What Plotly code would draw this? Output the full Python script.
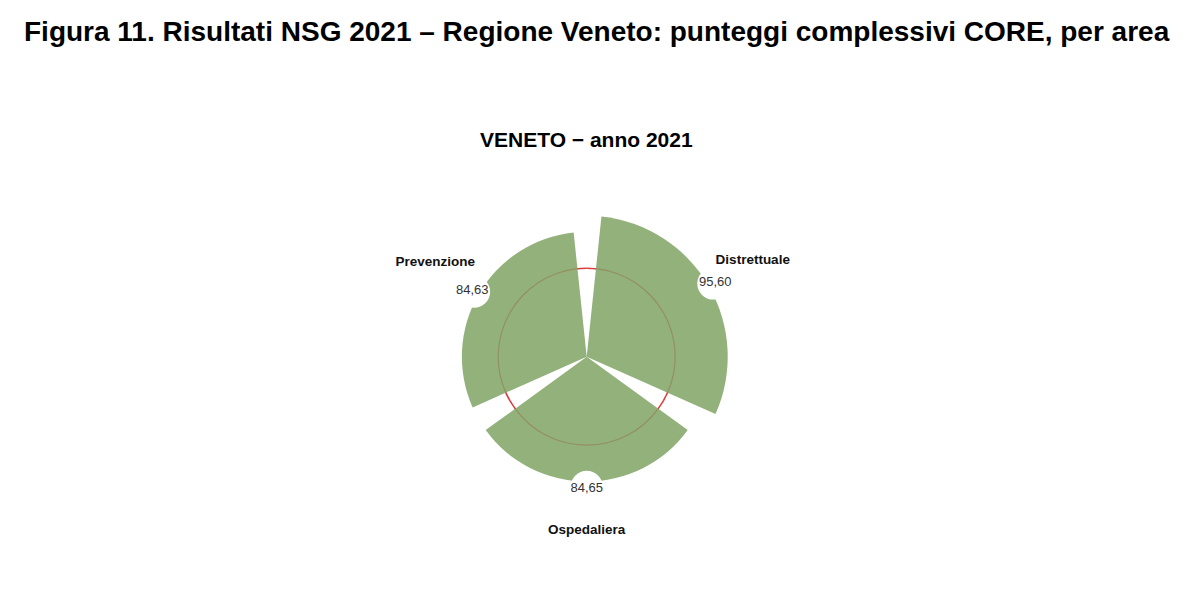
import plotly.graph_objects as go

# ---- data ----
categories = ["Prevenzione", "Distrettuale", "Ospedaliera"]
scores = [84.63, 95.60, 84.65]
score_labels = ["84,63", "95,60", "84,65"]
threshold = 60

main_title = "Figura 11. Risultati NSG 2021 – Regione Veneto: punteggi complessivi CORE, per area"
chart_title = "VENETO − anno 2021"

# ---- style ----
FONT = "Liberation Sans, Arial, sans-serif"
BAR_COLOR = "#93B17B"
R_MAX = 135
label_radius = [118.5, 130, 118]
label_textpos = ["top center", "middle center", "middle center"]

fig = go.Figure()

# threshold ring (visible red in gaps)
fig.add_trace(go.Barpolar(
    theta=categories, r=[1.1] * len(categories), base=[threshold - 0.55] * len(categories),
    width=1, marker=dict(color="#E0393A", line=dict(width=0)), hoverinfo="skip", showlegend=False))

# score bars
fig.add_trace(go.Barpolar(
    theta=categories, r=scores, width=0.9,
    marker=dict(color=BAR_COLOR, line=dict(width=0)), hoverinfo="skip", showlegend=False))

# threshold ring seen through bars
fig.add_trace(go.Barpolar(
    theta=categories, r=[0.8] * len(categories), base=[threshold - 0.4] * len(categories),
    width=0.9, marker=dict(color="rgba(150,80,50,0.35)", line=dict(width=0)),
    hoverinfo="skip", showlegend=False))

# white discs behind value labels
fig.add_trace(go.Scatterpolar(
    theta=categories, r=[v + 3.5 for v in scores], mode="markers",
    marker=dict(size=32, color="white", line=dict(width=0)),
    cliponaxis=False, hoverinfo="skip", showlegend=False))

# value labels
fig.add_trace(go.Scatterpolar(
    theta=categories, r=[v + 5 for v in scores], mode="text",
    text=score_labels, textposition="middle center",
    textfont=dict(family=FONT, size=13, color="#333333"),
    cliponaxis=False, hoverinfo="skip", showlegend=False))

# category labels
fig.add_trace(go.Scatterpolar(
    theta=categories, r=label_radius, mode="text",
    text=["<b>%s</b>" % c for c in categories], textposition=label_textpos,
    textfont=dict(family=FONT, size=13.5, color="#111111"),
    cliponaxis=False, hoverinfo="skip", showlegend=False))

W, H = 1204, 608
cx, cy = 586.7, 356.7
rad_px = R_MAX * 1.475
fig.update_layout(
    width=W, height=H,
    margin=dict(l=0, r=0, t=0, b=0),
    paper_bgcolor="white", plot_bgcolor="white",
    showlegend=False,
    polar=dict(
        domain=dict(x=[(cx - rad_px) / W, (cx + rad_px) / W],
                    y=[(H - cy - rad_px) / H, (H - cy + rad_px) / H]),
        bgcolor="white",
        angularaxis=dict(type="category", categoryarray=categories, rotation=150,
                         direction="clockwise", showgrid=False, showline=False,
                         showticklabels=False, ticks=""),
        radialaxis=dict(range=[0, R_MAX], visible=False, showgrid=False),
    ),
    annotations=[
        dict(text="<b>%s</b>" % main_title, x=597 / W, y=1 - 31 / H, xref="paper", yref="paper",
             xanchor="center", yanchor="middle", showarrow=False,
             font=dict(family=FONT, size=28, color="#000000")),
        dict(text="<b>%s</b>" % chart_title, x=586 / W, y=1 - 139 / H, xref="paper", yref="paper",
             xanchor="center", yanchor="middle", showarrow=False,
             font=dict(family=FONT, size=21, color="#000000")),
    ],
)

fig.write_html("out.html", config={"displayModeBar": False},
               post_script="document.body.style.margin='0';")
